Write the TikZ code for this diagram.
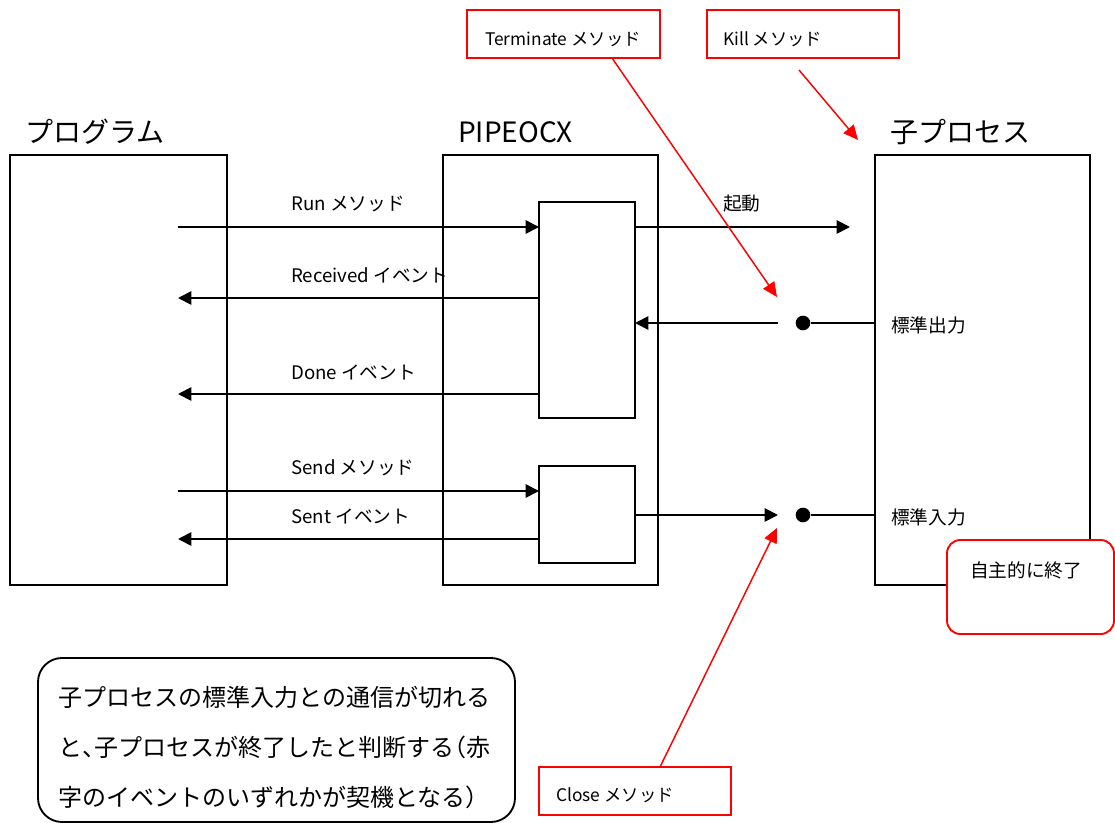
\documentclass[tikz,border=0pt]{standalone}
\usepackage{fontspec}
\setmainfont{Noto Sans CJK JP}
\newfontfamily\halfpunct[RawFeature=+halt]{Noto Sans CJK JP}
\usetikzlibrary{arrows.meta}
\tikzset{
  boxb/.style={draw=black, line width=1.4pt, inner sep=0pt, outer sep=0pt, anchor=north west},
  boxr/.style={draw=red, line width=1.4pt, inner sep=0pt, outer sep=0pt, anchor=north west},
  conn/.style={draw=black, line width=1.4pt},
  arr/.style={conn, -{Triangle[length=10pt,width=10pt]}},
  rarr/.style={draw=red, line width=1.1pt, -{Triangle[length=11pt,width=10pt]}},
  lbl/.style={anchor=base west, inner sep=0pt, font=\fontsize{14pt}{16pt}\selectfont},
  rlbl/.style={anchor=base west, inner sep=0pt, font=\fontsize{13pt}{15pt}\selectfont},
  ttl/.style={anchor=base west, inner sep=0pt, font=\fontsize{21pt}{25pt}\selectfont},
  notel/.style={anchor=base west, inner sep=0pt, font=\fontsize{18pt}{22pt}\selectfont},
  dotn/.style={circle, fill=black, inner sep=0pt, minimum size=11pt},
}
\begin{document}
\begin{tikzpicture}[x=0.75pt,y=-0.75pt]
\useasboundingbox (0,0) rectangle (1115,823);
% main boxes
\node[boxb, minimum width=217*0.75pt, minimum height=430*0.75pt] (prog) at (10,155) {};
\node[boxb, minimum width=215*0.75pt, minimum height=430*0.75pt] (pipe) at (443,155) {};
\node[boxb, minimum width=215*0.75pt, minimum height=430*0.75pt] (child) at (875,155) {};
\node[boxb, fill=white, minimum width=96*0.75pt, minimum height=216*0.75pt] (inA) at (539,202) {};
\node[boxb, fill=white, minimum width=96*0.75pt, minimum height=97*0.75pt] (inB) at (539,466) {};
% titles
\node[ttl] (tprog) at (25,143) {プログラム};
\node[ttl] (tpipe) at (458,143) {PIPEOCX};
\node[ttl] (tchild) at (890,143) {子プロセス};
% free coordinates
\coordinate (runS) at (178,227);
\coordinate (bootE) at (850,227);
\coordinate (recE) at (178,298);
\coordinate (doneE) at (178,394);
\coordinate (sendS) at (178,491);
\coordinate (sentE) at (178,539);
\coordinate (outS) at (778,323);
\coordinate (inE) at (778,515);
\node[dotn] (dot1) at (803,323) {};
\node[dotn] (dot2) at (803,515) {};
% connectors
\draw[arr] (runS) -- (runS -| inA.west);
\draw[arr] (inA.east |- bootE) -- (bootE);
\draw[arr] (inA.west |- recE) -- (recE);
\draw[arr] (inA.west |- doneE) -- (doneE);
\draw[arr] (sendS) -- (sendS -| inB.west);
\draw[arr] (inB.west |- sentE) -- (sentE);
\draw[arr] (outS) -- (outS -| inA.east);
\draw[conn] (child.west |- dot1) -- (dot1);
\draw[arr] (inB.east |- inE) -- (inE);
\draw[conn] (dot2) -- (child.west |- dot2);
% labels
\node[lbl] (lrun) at (291,211) {Run メソッド};
\node[lbl] (lboot) at (723,211) {起動};
\node[lbl] (lrec) at (291,283) {Received イベント};
\node[lbl] (ldone) at (291,380) {Done イベント};
\node[lbl] (lsend) at (291,475) {Send メソッド};
\node[lbl] (lsent) at (291,524) {Sent イベント};
\node[lbl] (lout) at (891,333) {標準出力};
\node[lbl] (lin) at (891,525) {標準入力};
% red boxes
\node[boxr, minimum width=193*0.75pt, minimum height=48*0.75pt] (term) at (467,10) {};
\node[rlbl] (tterm) at (485,46) {Terminate メソッド};
\node[boxr, minimum width=192*0.75pt, minimum height=48*0.75pt] (kill) at (707,10) {};
\node[rlbl] (tkill) at (723,46) {Kill メソッド};
\node[boxr, minimum width=192*0.75pt, minimum height=48*0.75pt] (close) at (539,767) {};
\node[rlbl] (tclose) at (556,801) {Close メソッド};
\node[boxr, fill=white, rounded corners=10pt, minimum width=167*0.75pt, minimum height=94*0.75pt] (self) at (947,540) {};
\node[lbl] (tself) at (970,578) {自主的に終了};
% red arrows
\coordinate (termT) at (777,297);
\coordinate (killS) at (799,70);
\coordinate (killT) at (858,140);
\coordinate (closeT) at (777,528);
\draw[rarr] (term.south -| 612,0) -- (termT);
\draw[rarr] (killS) -- (killT);
\draw[rarr] (close.north -| 660,0) -- (closeT);
% note
\node[boxb, rounded corners=18pt, minimum width=477*0.75pt, minimum height=164*0.75pt] (note) at (38,658) {};
\node[notel] (n1) at (58,706) {子プロセスの標準入力との通信が切れる};
\node[notel] (n2) at (58,756) {と{\halfpunct 、}子プロセスが終了したと判断する{\halfpunct （}赤};
\node[notel] (n3) at (58,806) {字のイベントのいずれかが契機となる{\halfpunct ）}};
\end{tikzpicture}
\end{document}
